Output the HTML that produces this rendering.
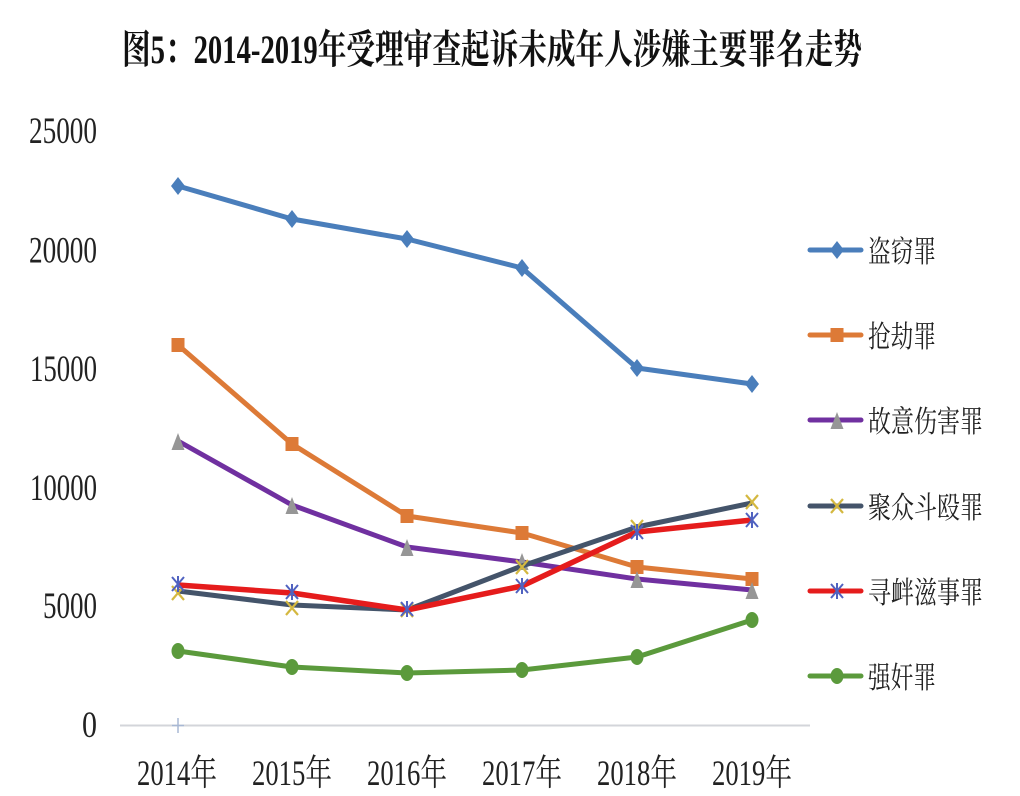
<!DOCTYPE html>
<html>
<head>
<meta charset="utf-8">
<style>
html,body{margin:0;padding:0;background:#fff;}
svg{display:block;}
</style>
</head>
<body>
<svg width="1020" height="796" viewBox="0 0 1020 796" xmlns="http://www.w3.org/2000/svg">
<rect width="1020" height="796" fill="#fff"/>
<!-- Title -->
<text x="122" y="63" font-family="'Liberation Serif','Noto Serif CJK SC',serif" font-weight="bold" font-size="40" fill="#111" textLength="740" lengthAdjust="spacingAndGlyphs">图5：2014-2019年受理审查起诉未成年人涉嫌主要罪名走势</text>

<!-- Y labels -->
<g font-family="'Liberation Serif',serif" font-size="37" fill="#222">
<text x="29" y="143" textLength="68" lengthAdjust="spacingAndGlyphs">25000</text>
<text x="29" y="262.5" textLength="68" lengthAdjust="spacingAndGlyphs">20000</text>
<text x="30" y="381" textLength="67" lengthAdjust="spacingAndGlyphs">15000</text>
<text x="30" y="500" textLength="67" lengthAdjust="spacingAndGlyphs">10000</text>
<text x="43" y="618" textLength="54" lengthAdjust="spacingAndGlyphs">5000</text>
<text x="82" y="737" textLength="15" lengthAdjust="spacingAndGlyphs">0</text>
</g>

<!-- axis -->
<line x1="120" y1="725.5" x2="810" y2="725.5" stroke="#d3d5da" stroke-width="2"/>
<g stroke="#a8b8d4" stroke-width="1.5">
<line x1="172" y1="725.5" x2="184" y2="725.5"/>
<line x1="178" y1="718" x2="178" y2="733"/>
</g>

<!-- X labels -->
<g font-family="'Liberation Serif','Noto Serif CJK SC',serif" font-size="36" fill="#222">
<text x="137" y="785" textLength="80" lengthAdjust="spacingAndGlyphs">2014年</text>
<text x="252" y="785" textLength="80" lengthAdjust="spacingAndGlyphs">2015年</text>
<text x="367" y="785" textLength="80" lengthAdjust="spacingAndGlyphs">2016年</text>
<text x="482" y="785" textLength="80" lengthAdjust="spacingAndGlyphs">2017年</text>
<text x="597" y="785" textLength="80" lengthAdjust="spacingAndGlyphs">2018年</text>
<text x="712" y="785" textLength="80" lengthAdjust="spacingAndGlyphs">2019年</text>
</g>

<!-- Series 盗窃 -->
<polyline points="178,186 292,219 407,239 522,268 637,368 752,384" fill="none" stroke="#4a7ebb" stroke-width="5" stroke-linejoin="round"/>
<g fill="#4a7ebb">
<polygon points="178,177 185,186 178,195 171,186"/>
<polygon points="292,210 299,219 292,228 285,219"/>
<polygon points="407,230 414,239 407,248 400,239"/>
<polygon points="522,259 529,268 522,277 515,268"/>
<polygon points="637,359 644,368 637,377 630,368"/>
<polygon points="752,375 759,384 752,393 745,384"/>
</g>

<!-- Series 抢劫 -->
<polyline points="178,345 292,444 407,516 522,533 637,567 752,579" fill="none" stroke="#dd7a37" stroke-width="5" stroke-linejoin="round"/>
<g fill="#dd7a37">
<rect x="171.5" y="338" width="13" height="14"/>
<rect x="285.5" y="437" width="13" height="14"/>
<rect x="400.5" y="509" width="13" height="14"/>
<rect x="515.5" y="526" width="13" height="14"/>
<rect x="630.5" y="560" width="13" height="14"/>
<rect x="745.5" y="572" width="13" height="14"/>
</g>

<!-- Series 故意伤害 -->
<polyline points="178,441 292,505 407,547 522,562 637,579 752,590" fill="none" stroke="#7030a0" stroke-width="5" stroke-linejoin="round"/>
<g fill="#969696">
<polygon points="178,433 184.5,450 171.5,450"/>
<polygon points="292,497 298.5,514 285.5,514"/>
<polygon points="407,539 413.5,556 400.5,556"/>
<polygon points="522,553 528.5,570 515.5,570"/>
<polygon points="637,571 643.5,588 630.5,588"/>
<polygon points="752,582 758.5,599 745.5,599"/>
</g>

<!-- Series 聚众斗殴 -->
<polyline points="178,591 292,605 407,610 522,566 637,527 752,503" fill="none" stroke="#44546a" stroke-width="5" stroke-linejoin="round"/>
<g stroke="#d4b840" stroke-width="2.2">
<path d="M172,586 L184,600 M184,586 L172,600"/>
<path d="M286,601 L298,615 M298,601 L286,615"/>
<path d="M401,603 L413,617 M413,603 L401,617"/>
<path d="M516,560 L528,574 M528,560 L516,574"/>
<path d="M631,520 L643,534 M643,520 L631,534"/>
<path d="M746,495 L758,509 M758,495 L746,509"/>
</g>

<!-- Series 寻衅滋事 -->
<polyline points="178,585 292,593 407,610 522,586 637,532 752,520" fill="none" stroke="#e51c1c" stroke-width="5.5" stroke-linejoin="round"/>
<g stroke="#5062c0" stroke-width="2">
<path d="M172,577 L184,591 M184,577 L172,591 M178,576 L178,592"/>
<path d="M286,585 L298,599 M298,585 L286,599 M292,584 L292,600"/>
<path d="M401,602 L413,616 M413,602 L401,616 M407,601 L407,617"/>
<path d="M516,579 L528,593 M528,579 L516,593 M522,578 L522,594"/>
<path d="M631,525 L643,539 M643,525 L631,539 M637,524 L637,540"/>
<path d="M746,513 L758,527 M758,513 L746,527 M752,512 L752,528"/>
</g>

<!-- Series 强奸 -->
<polyline points="178,651 292,667 407,673 522,670 637,657 752,620" fill="none" stroke="#5b9a3c" stroke-width="5" stroke-linejoin="round"/>
<g fill="#5b9a3c">
<ellipse cx="178" cy="651" rx="6.5" ry="8"/>
<ellipse cx="292" cy="667" rx="6.5" ry="8"/>
<ellipse cx="407" cy="673" rx="6.5" ry="8"/>
<ellipse cx="522" cy="670" rx="6.5" ry="8"/>
<ellipse cx="637" cy="657" rx="6.5" ry="8"/>
<ellipse cx="752" cy="620" rx="6.5" ry="8"/>
</g>

<!-- Legend -->
<g stroke-width="5" stroke-linecap="round">
<line x1="810" y1="250" x2="861" y2="250" stroke="#4a7ebb"/>
<line x1="810" y1="335" x2="861" y2="335" stroke="#dd7a37"/>
<line x1="810" y1="420" x2="861" y2="420" stroke="#7030a0"/>
<line x1="810" y1="506" x2="861" y2="506" stroke="#44546a"/>
<line x1="810" y1="591" x2="861" y2="591" stroke="#e51c1c"/>
<line x1="810" y1="676" x2="861" y2="676" stroke="#5b9a3c"/>
</g>
<polygon points="837,241 844,250 837,259 830,250" fill="#4a7ebb"/>
<rect x="830.5" y="328" width="13" height="14" fill="#dd7a37"/>
<polygon points="837,412 843.5,429 830.5,429" fill="#969696"/>
<path d="M831,499 L843,513 M843,499 L831,513" stroke="#d4b840" stroke-width="2.2"/>
<path d="M831,584 L843,598 M843,584 L831,598 M837,583 L837,599" stroke="#5062c0" stroke-width="2"/>
<ellipse cx="837" cy="676" rx="6.5" ry="8" fill="#5b9a3c"/>

<g font-family="'Liberation Serif','Noto Serif CJK SC',serif" font-size="30" fill="#222">
<text x="868" y="262" textLength="68" lengthAdjust="spacingAndGlyphs">盗窃罪</text>
<text x="868" y="347" textLength="68" lengthAdjust="spacingAndGlyphs">抢劫罪</text>
<text x="868" y="432" textLength="115" lengthAdjust="spacingAndGlyphs">故意伤害罪</text>
<text x="868" y="518" textLength="115" lengthAdjust="spacingAndGlyphs">聚众斗殴罪</text>
<text x="868" y="603" textLength="115" lengthAdjust="spacingAndGlyphs">寻衅滋事罪</text>
<text x="868" y="688" textLength="68" lengthAdjust="spacingAndGlyphs">强奸罪</text>
</g>
</svg>
</body>
</html>
